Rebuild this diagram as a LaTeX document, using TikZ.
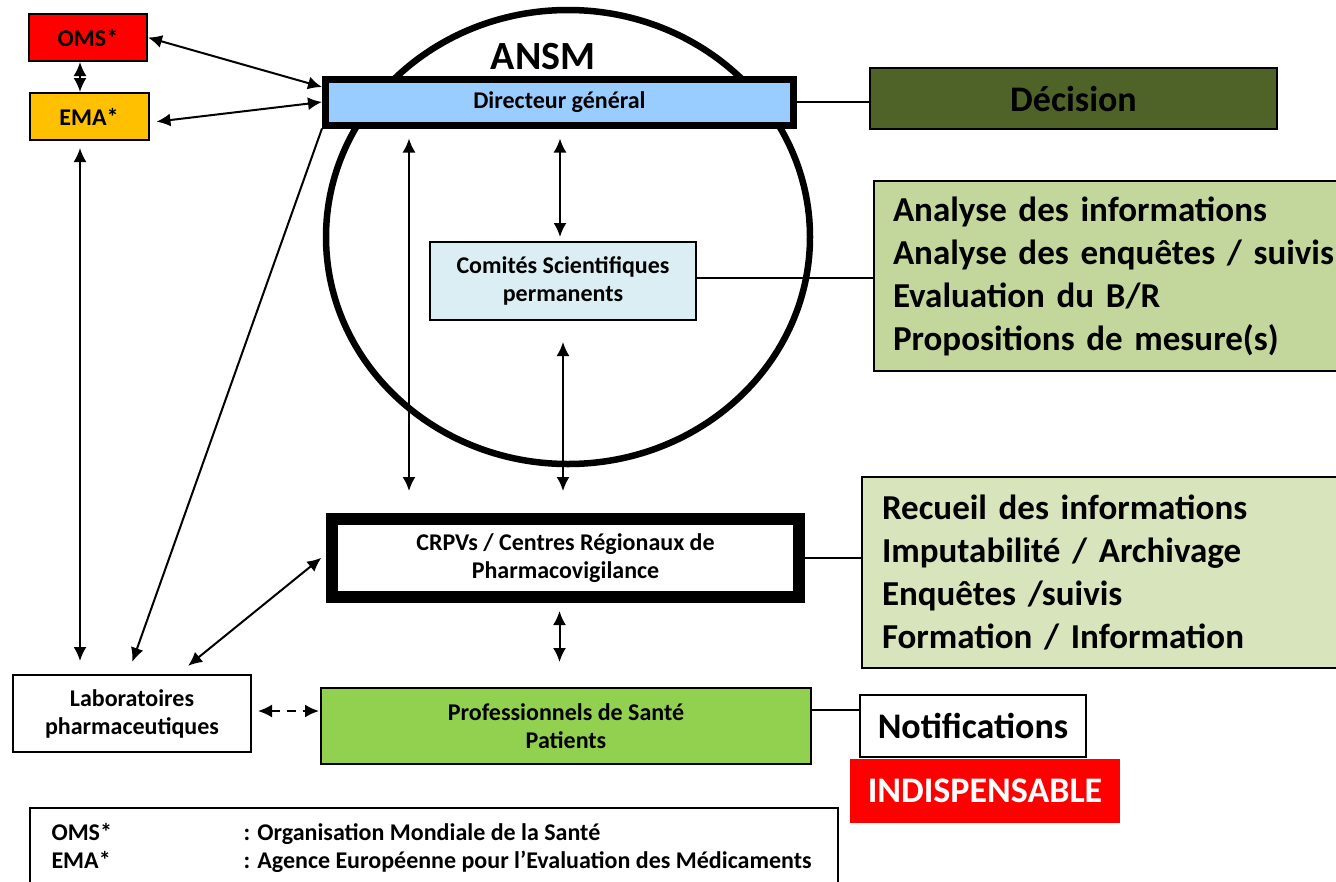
\documentclass[tikz,border=0pt]{standalone}
\usepackage{fontspec}
\setmainfont{Carlito}
\usepackage{tikz}
\usetikzlibrary{arrows.meta}

\definecolor{rougeoms}{HTML}{FF0000}
\definecolor{jauneema}{HTML}{FFC000}
\definecolor{bleudg}{HTML}{99CCFF}
\definecolor{vertdecision}{HTML}{4F6228}
\definecolor{bleucomite}{HTML}{DAEEF3}
\definecolor{vertanalyse}{HTML}{C3D69B}
\definecolor{vertrecueil}{HTML}{D7E4BC}
\definecolor{vertpro}{HTML}{92D050}

\newcommand{\petit}{\fontsize{24}{28}\selectfont\bfseries}
\newcommand{\moyen}{\fontsize{24}{28}\selectfont\bfseries}
\newcommand{\grand}{\fontsize{35}{43}\selectfont\bfseries}
\newcommand{\titre}{\fontsize{36}{40}\selectfont\bfseries}

\begin{document}
\begin{tikzpicture}[x=1pt, y=-1pt,
    boite/.style={draw, line width=2pt, align=center, inner sep=0pt, font=\petit},
    liste/.style={draw, line width=2pt, align=left, inner xsep=19pt, font=\grand},
    fleche/.style={{Latex[length=14pt,width=13pt]}-{Latex[length=14pt,width=13pt]}, line width=2pt},
    pointe/.style={-{Latex[length=14pt,width=13pt]}, line width=2pt},
    lien/.style={line width=2pt}]
    % \draw[help lines, step=50] (0,0) grid (1336,881);
    \useasboundingbox (0,0) rectangle (1336,881);
    \draw[line width=6.5pt] (568,237) ellipse [x radius=242, y radius=227];
    \node[boite, fill=rougeoms, minimum width=118pt, minimum height=47pt, font=\moyen] (oms) at (88,37.5) {OMS*};
    \node[boite, fill=jauneema, minimum width=119pt, minimum height=47pt, font=\moyen] (ema) at (89,116.5) {EMA*};
    \node[boite, fill=bleudg, line width=7pt, minimum width=468pt, minimum height=46pt] (dg) at (559.5,102) {Directeur général};
    \node[font=\fontsize{40}{44}\selectfont\bfseries] (ansm) at (543,57) {ANSM};
    \node[boite, fill=vertdecision, minimum width=407pt, minimum height=61pt, font=\titre] (decision) at (1073.5,98.5) {Décision};
    \node[boite, fill=bleucomite, minimum width=266pt, minimum height=78pt] (comites) at (563,281) {Comités Scientifiques\\permanents};
    \node[liste, fill=vertanalyse, anchor=west, text width=470pt, minimum height=190pt] (analyse) at (873,276) {Analyse des informations\\Analyse des enquêtes / suivis\\Evaluation du B/R\\Propositions de mesure(s)};
    \node[boite, fill=white, line width=12pt, minimum width=467pt, minimum height=78pt] (crpv) at (565.5,558) {CRPVs / Centres Régionaux de\\Pharmacovigilance};
    \node[liste, fill=vertrecueil, anchor=west, text width=470pt, inner xsep=20pt, minimum height=191pt] (recueil) at (861,572.5) {Recueil des informations\\Imputabilité / Archivage\\Enquêtes /suivis\\Formation / Information};
    \node[boite, fill=vertpro, minimum width=490pt, minimum height=76pt] (prof) at (566,726) {Professionnels de Santé\\Patients};
    \node[fill=rougeoms, text=white, minimum width=270pt, minimum height=64pt, inner sep=0pt, font=\titre] (indisp) at (985,791) {INDISPENSABLE};
    \node[boite, fill=white, minimum width=226pt, minimum height=62pt, font=\titre] (notif) at (973,726) {Notifications};
    \node[boite, fill=white, minimum width=238pt, minimum height=77pt] (labo) at (132,713.5) {Laboratoires\\pharmaceutiques};
    \node[draw, line width=2pt, anchor=north west, minimum width=808pt, minimum height=100pt] (legende) at (29,807) {};
    \node[anchor=base west, font=\petit] (omsleg) at (48,840) {OMS*};
    \node[anchor=base west, font=\petit] (omsdef) at (240,840) {: Organisation Mondiale de la Santé};
    \node[anchor=base west, font=\petit] (emaleg) at (48,868) {EMA*};
    \node[anchor=base west, font=\petit] (emadef) at (240,868) {: Agence Européenne pour l’Evaluation des Médicaments};
    % liaisons
    \draw[fleche] (oms.east) -- ([yshift=15pt]dg.west);
    \draw[fleche, shorten <=7pt] ([yshift=-6pt]ema.east) -- (dg.west);
    \draw[fleche] ([xshift=-8pt]oms.south) -- ([xshift=-8pt]oms.south |- ema.north);
    \draw[fleche, shorten <=7pt, shorten >=13pt] ([xshift=-9pt]ema.south) -- ([xshift=-9pt]ema.south |- labo.north);
    \draw[pointe, shorten >=13pt] (dg.south west) -- ([xshift=-4pt]labo.north);
    \draw[fleche, shorten <=13pt, shorten >=6pt] ([xshift=46pt]labo.north) -- ([yshift=4pt]crpv.west);
    \draw[fleche, shorten <=10pt, shorten >=22pt] ([xshift=-150.5pt]dg.south) -- ([xshift=-150.5pt]dg.south |- crpv.north);
    \draw[fleche, shorten <=10pt, shorten >=4pt] ([xshift=-3pt]comites.north |- dg.south) -- ([xshift=-3pt]comites.north);
    \draw[fleche, shorten <=21pt, shorten >=22pt] (comites.south) -- (comites.south |- crpv.north);
    \draw[fleche, shorten <=8pt, shorten >=25pt] ([xshift=-6pt]crpv.south) -- ([xshift=-6pt]crpv.south |- prof.north);
    \draw[fleche, dash pattern=on 9pt off 7pt, shorten <=6pt, shorten >=1pt] ([yshift=2.5pt]labo.east) -- ([yshift=2.5pt]labo.east -| prof.west);
    \draw[lien] (dg.east) -- (dg.east -| decision.west);
    \draw[lien] ([yshift=3pt]comites.east) -- ([yshift=3pt]comites.east -| analyse.west);
    \draw[lien] (crpv.east) -- (crpv.east -| recueil.west);
    \draw[lien] ([yshift=16pt]prof.east) -- ([yshift=16pt]prof.east -| notif.west);
\end{tikzpicture}
\end{document}
